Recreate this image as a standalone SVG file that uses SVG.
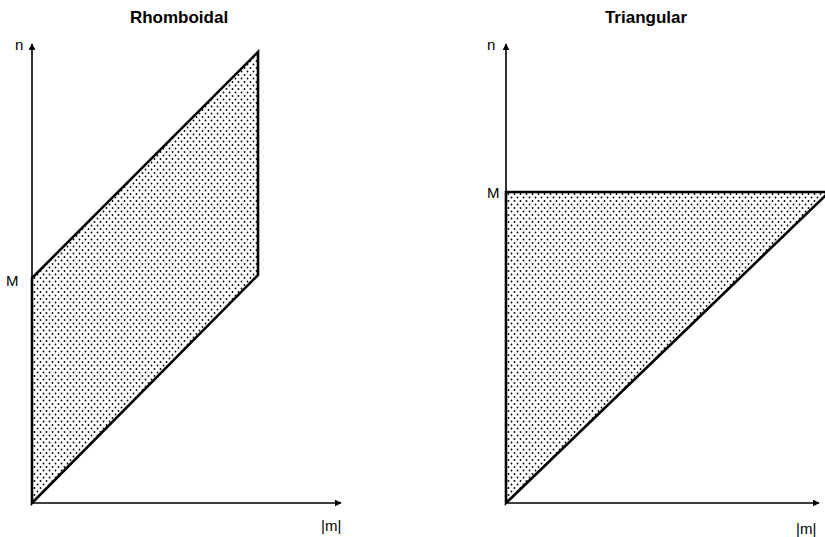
<svg xmlns="http://www.w3.org/2000/svg" width="825" height="537" viewBox="0 0 825 537">
<style>
.title{font-family:"Liberation Sans",Arial,sans-serif;font-weight:bold;font-size:17px;fill:#000;text-anchor:middle}
.lbl{font-family:"Liberation Sans",Arial,sans-serif;font-size:15px;fill:#000}
.axis{stroke:#000;stroke-width:1.6;fill:none}
.region{fill:url(#dots);stroke:#000;stroke-width:2.6;stroke-linejoin:miter}
</style>
<defs>
<pattern id="dots" width="6" height="7" patternUnits="userSpaceOnUse">
<rect width="6" height="7" fill="#fff"/>
<circle cx="1.5" cy="1.5" r="0.9" fill="#000"/>
<circle cx="4.5" cy="5" r="0.9" fill="#000"/>
</pattern>
<marker id="arr" viewBox="0 0 10 10" refX="9" refY="5" markerWidth="7" markerHeight="7" markerUnits="userSpaceOnUse" orient="auto">
<path d="M0,0 L10,5 L0,10 z" fill="#000"/>
</marker>
</defs>

<g id="rhomboidal">
<text class="title" x="179" y="23">Rhomboidal</text>
<polygon id="rhombus" class="region" points="32,503 32,278 258,52 258,275"/>
<text class="lbl" x="6" y="286">M</text>
<text class="lbl" x="15" y="50">n</text>
<text class="lbl" x="321" y="531">|m|</text>
</g>

<g id="triangular">
<text class="title" x="646" y="23">Triangular</text>
<polygon id="triangle" class="region" points="506,503 506,192 826,192 826,195"/>
<text class="lbl" x="487" y="198">M</text>
<text class="lbl" x="487" y="50">n</text>
<text class="lbl" x="796" y="534">|m|</text>
</g>

<g id="connectors">
<line class="axis" x1="32" y1="503" x2="32" y2="44" marker-end="url(#arr)"/>
<line class="axis" x1="32" y1="503" x2="341" y2="503" marker-end="url(#arr)"/>
<line class="axis" x1="506" y1="503" x2="506" y2="44" marker-end="url(#arr)"/>
<line class="axis" x1="506" y1="503" x2="819" y2="503" marker-end="url(#arr)"/>
</g>
</svg>
